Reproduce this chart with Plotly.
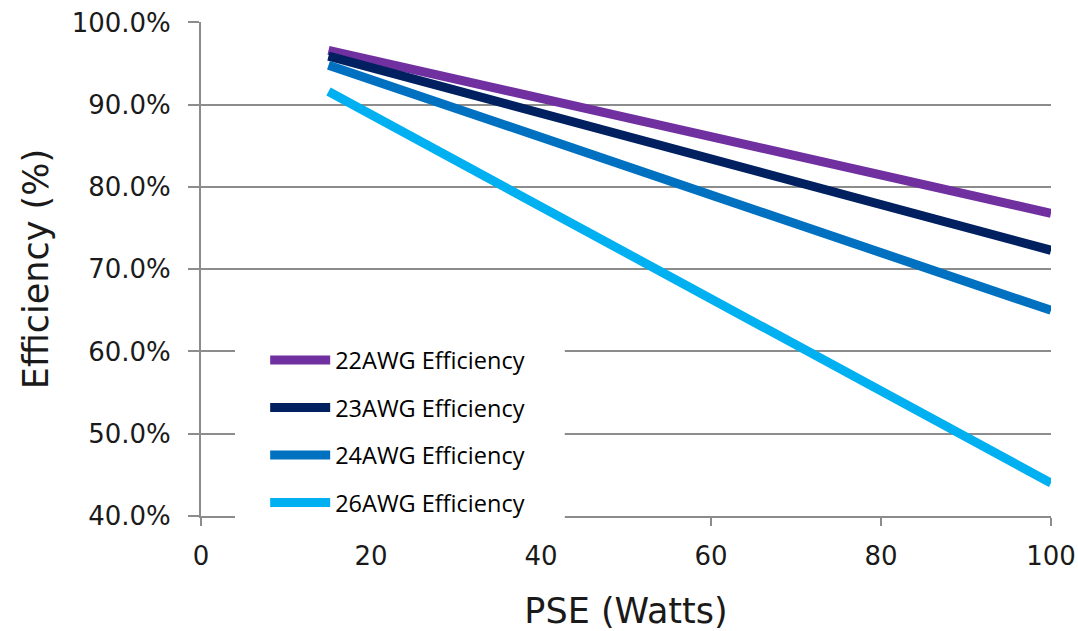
import plotly.graph_objects as go

# Data
pse_watts = [15, 100]
eff_22awg = [0.966, 0.768]
eff_23awg = [0.959, 0.723]
eff_24awg = [0.948, 0.650]
eff_26awg = [0.916, 0.440]

series_names = ["22AWG Efficiency", "23AWG Efficiency", "24AWG Efficiency", "26AWG Efficiency"]
series_values = [eff_22awg, eff_23awg, eff_24awg, eff_26awg]
series_colors = ["#7030A0", "#002060", "#0070C0", "#00B0F0"]

x_ticks = [0, 20, 40, 60, 80, 100]
y_ticks = [0.4, 0.5, 0.6, 0.7, 0.8, 0.9, 1.0]

GRID = "#8C8C8C"
TICKFONT = dict(family="DejaVu Sans", size=26, color="#1a1a1a")

fig = go.Figure()
for i, (name, vals, col) in enumerate(zip(series_names, series_values, series_colors)):
    fig.add_trace(go.Scatter(
        x=pse_watts, y=vals, mode="lines", name=name,
        legendgroup=f"g{i}",
        line=dict(color=col, width=9),
    ))

# white legend background panel (hides gridlines behind the legend, as in the original)
fig.add_shape(type="rect", xref="paper", yref="paper",
              x0=0.04, x1=0.428, y0=-0.022, y1=0.37,
              fillcolor="white", line=dict(width=0), layer="above")

fig.update_layout(
    width=1078, height=631,
    margin=dict(l=201, r=27, t=22, b=115, autoexpand=False),
    paper_bgcolor="white", plot_bgcolor="white",
    showlegend=True,
    legend=dict(
        x=0.0755, y=0.36, xanchor="left", yanchor="top",
        bgcolor="rgba(0,0,0,0)", borderwidth=0,
        font=dict(family="Open Sans", size=23.5, color="#000000"),
        itemwidth=60, tracegroupgap=14,
    ),
    xaxis=dict(
        range=[0, 100], tickvals=x_ticks, showgrid=False, zeroline=False,
        showline=True, linecolor=GRID, linewidth=2, automargin=False,
        ticks="outside", ticklen=8, tickcolor=GRID, tickwidth=2,
        tickfont=TICKFONT, ticklabelstandoff=8, ticklabeloverflow="allow",
        title=dict(text="PSE (Watts)", font=dict(family="DejaVu Sans", size=35, color="#1a1a1a"), standoff=30),
    ),
    yaxis=dict(
        range=[0.4, 1.0005], tickvals=y_ticks, tickformat=".1%",
        showgrid=True, gridcolor=GRID, gridwidth=2, zeroline=False,
        showline=True, linecolor=GRID, linewidth=2, automargin=False,
        ticks="outside", ticklen=11, tickcolor=GRID, tickwidth=2,
        tickfont=TICKFONT, ticklabelstandoff=12, ticklabeloverflow="allow",
        title=dict(text="Efficiency (%)", font=dict(family="DejaVu Sans", size=35, color="#1a1a1a"), standoff=12),
    ),
)

fig.write_html("out.html",
               config={"displayModeBar": False},
               post_script="document.body.style.margin='0';document.body.style.overflow='hidden';")
